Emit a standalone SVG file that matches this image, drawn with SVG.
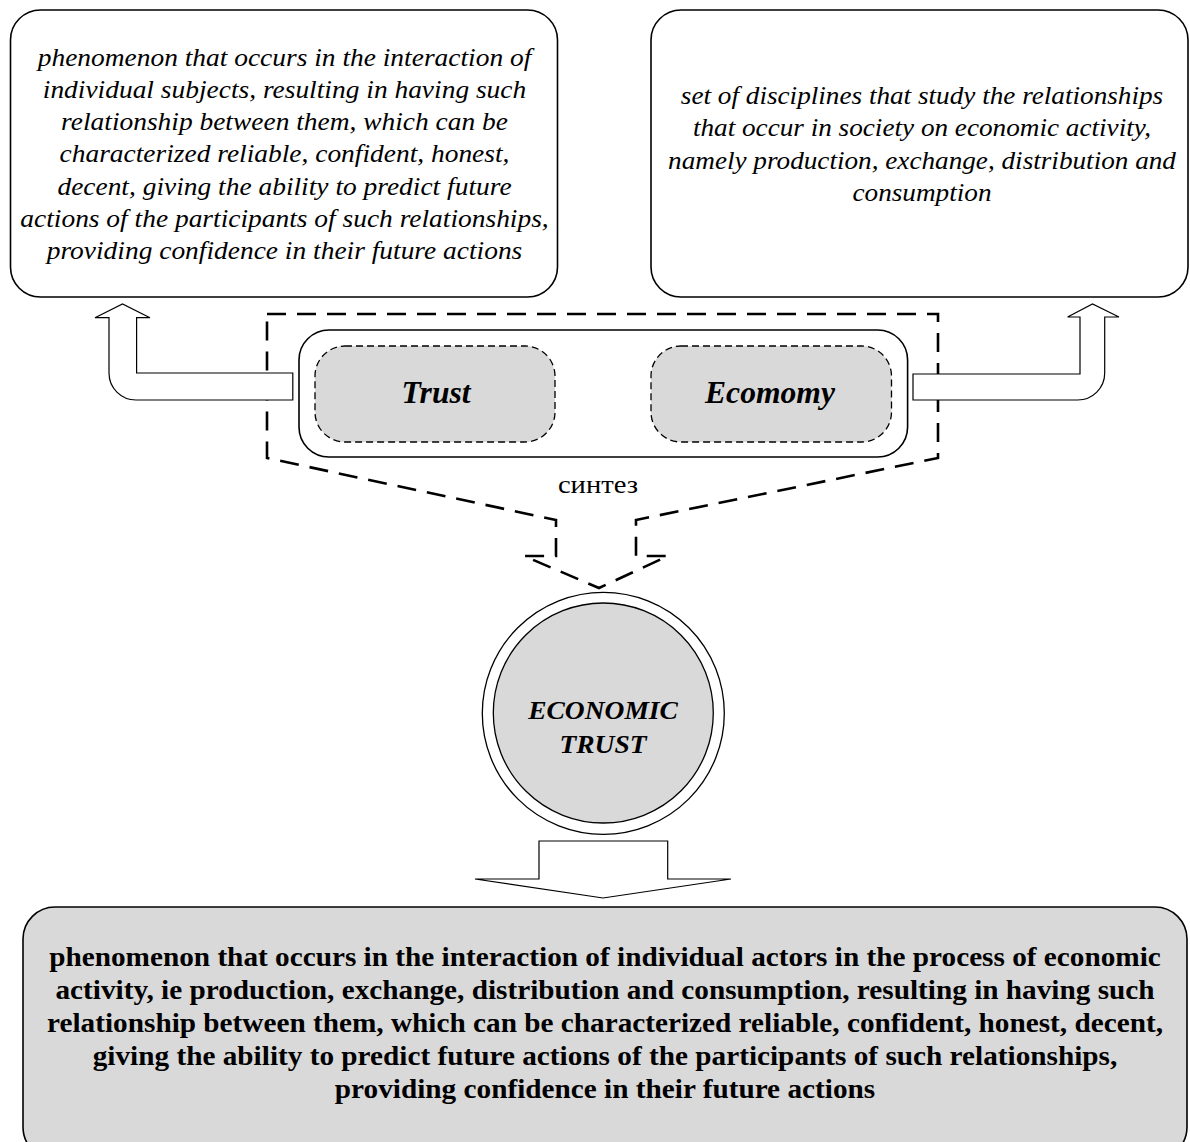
<svg xmlns="http://www.w3.org/2000/svg" width="1190" height="1142" viewBox="0 0 1190 1142">
<style>
.box{fill:#fff;stroke:#000;stroke-width:1.6}
.gray{fill:#d9d9d9}
.t{font-family:"Liberation Serif","Times New Roman",serif;fill:#000;text-anchor:middle}
.it{font-style:italic;font-size:26px}
.bi{font-style:italic;font-weight:bold}
.b{font-weight:bold;font-size:28px}
.arrow{fill:#fff;stroke:#000;stroke-width:1.2;stroke-linejoin:miter}
.dash{fill:none;stroke:#000;stroke-width:2.6;stroke-dasharray:19 11}
.sdash{fill:#d9d9d9;stroke:#000;stroke-width:1.3;stroke-dasharray:7 4}
</style>
<rect width="1190" height="1142" fill="#fff"/>
<g id="connectors">
<path class="dash" d="M267,314 L938,314 L938,458 L636,520 L636,556 L668,556 L599,588 L524,556 L556,556 L556,520 L267,458 Z"/>
<path class="arrow" d="M292.8,373 L136.6,373 L136.6,317.7 L150,317.7 L122.5,304 L95,317.7 L109,317.7 L109,373 A27,27 0 0 0 136,400 L292.8,400 Z"/>
<path class="arrow" d="M913,374 L1080,374 L1080,317 L1067.6,317 L1092.5,304 L1119,317 L1104.7,317 L1104.7,373 A27,27 0 0 1 1077.7,400 L913,400 Z"/>
<path class="arrow" d="M539,841 L667.7,841 L667.7,879 L731,879 L603,898 L475,879 L539,879 Z"/>
<g transform="translate(598,0) scale(1.1,1)">
<text class="t" x="0" y="493" font-size="26">синтез</text>
</g>
</g>
<g id="trust-def">
<rect class="box" x="10.5" y="10" width="547" height="287" rx="30"/>
<g transform="translate(284.5,0) scale(1.055,1)">
<text class="t it" x="0" y="66">phenomenon that occurs in the interaction of</text>
<text class="t it" x="0" y="98">individual subjects, resulting in having such</text>
<text class="t it" x="0" y="130">relationship between them, which can be</text>
<text class="t it" x="0" y="162">characterized reliable, confident, honest,</text>
<text class="t it" x="0" y="195">decent, giving the ability to predict future</text>
<text class="t it" x="0" y="227">actions of the participants of such relationships,</text>
<text class="t it" x="0" y="259">providing confidence in their future actions</text>
</g>
</g>
<g id="economy-def">
<rect class="box" x="651" y="10" width="537" height="287" rx="30"/>
<g transform="translate(922,0) scale(1.046,1)">
<text class="t it" x="0" y="104">set of disciplines that study the relationships</text>
<text class="t it" x="0" y="136.5">that occur in society on economic activity,</text>
<text class="t it" x="0" y="169">namely production, exchange, distribution and</text>
<text class="t it" x="0" y="201.5">consumption</text>
</g>
</g>
<g id="synthesis-frame">
<rect class="box" x="299" y="330" width="608.6" height="127" rx="30"/>
</g>
<g id="trust">
<rect class="sdash" x="315" y="346" width="240" height="96" rx="30"/>
<g transform="translate(436,0) scale(1.02,1)">
<text class="t bi" x="0" y="403.5" font-size="31">Trust</text>
</g>
</g>
<g id="economy">
<rect class="sdash" x="651" y="346" width="240.5" height="96" rx="30"/>
<g transform="translate(770,0) scale(1.02,1)">
<text class="t bi" x="0" y="403.5" font-size="31">Ecomomy</text>
</g>
</g>
<g id="economic-trust">
<circle cx="603.3" cy="713.3" r="121" fill="#fff" stroke="#000" stroke-width="1.3"/>
<circle class="gray" cx="603.3" cy="713" r="110" stroke="#000" stroke-width="1.3"/>
<g transform="translate(603,0) scale(1.1,1)">
<text class="t bi" x="0" y="719" font-size="25">ECONOMIC</text>
<text class="t bi" x="0" y="753" font-size="25">TRUST</text>
</g>
</g>
<g id="economic-trust-def">
<rect x="23" y="907" width="1164" height="252" rx="32" fill="#d9d9d9" stroke="#000" stroke-width="1.6"/>
<g transform="translate(605,0) scale(1.045,1)">
<text class="t b" x="0" y="966">phenomenon that occurs in the interaction of individual actors in the process of economic</text>
<text class="t b" x="0" y="999">activity, ie production, exchange, distribution and consumption, resulting in having such</text>
<text class="t b" x="0" y="1032">relationship between them, which can be characterized reliable, confident, honest, decent,</text>
<text class="t b" x="0" y="1065">giving the ability to predict future actions of the participants of such relationships,</text>
<text class="t b" x="0" y="1098">providing confidence in their future actions</text>
</g>
</g>
</svg>
